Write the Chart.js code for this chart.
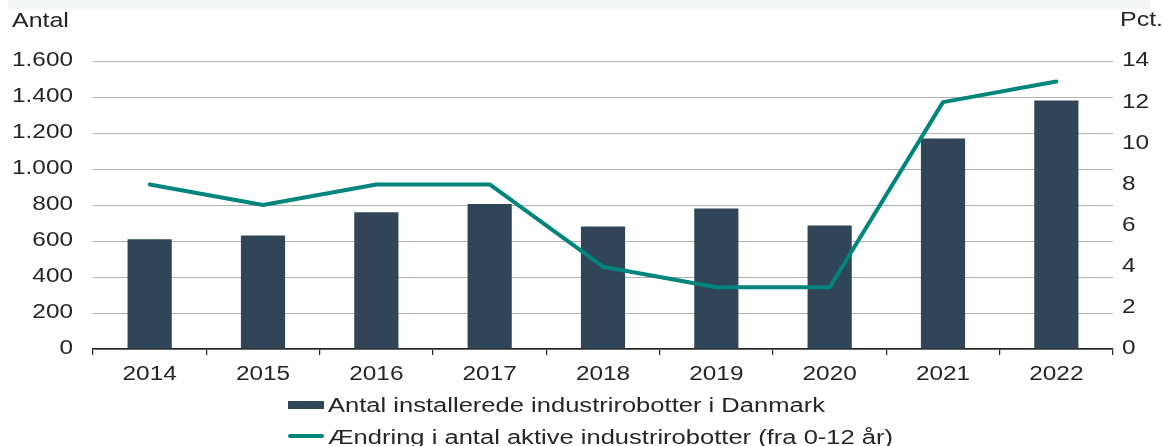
<!DOCTYPE html>
<html>
<head>
<meta charset="utf-8">
<script src="https://cdn.jsdelivr.net/npm/chart.js@4"></script>
<style>
  html, body { margin: 0; padding: 0; background: #fff; }
  #wrap { position: relative; width: 1163px; height: 446px; overflow: hidden; font-family: "Liberation Sans", Arial, sans-serif; color: #262626; }
  #c { position: absolute; left: 0; top: 0; }
  .band { position: absolute; left: 8px; top: 0; width: 1142px; height: 9px; background: #f4f5f5; }
  .t { position: absolute; font-size: 19.5px; line-height: 1; white-space: nowrap; transform: scaleX(1.28); transform-origin: 0 0; }
  .lg { transform: scaleX(1.31); }
  .sw { position: absolute; left: 288px; width: 36px; }
</style>
</head>
<body>
<div id="wrap">
  <canvas id="c" width="1163" height="446"></canvas>
  <div class="band"></div>
  <div class="t" style="left:12px; top:11px;">Antal</div>
  <div class="t" style="left:1120px; top:10px;">Pct.</div>
  <div class="sw" style="top:401px; height:8px; background:#314559;"></div>
  <div class="t lg" style="left:328px; top:396px;" id="lg1"></div>
  <div class="sw" style="top:434px; height:4px; background:#00857c; border-radius:2px;"></div>
  <div class="t lg" style="left:328px; top:428px;" id="lg2"></div>
</div>
<script>
const categories = ["2014", "2015", "2016", "2017", "2018", "2019", "2020", "2021", "2022"];
const installedRobots = [610, 630, 760, 805, 680, 780, 686, 1170, 1380];
const changeActiveRobots = [8, 7, 8, 8, 4, 3, 3, 12, 13];
const barLabel = "Antal installerede industrirobotter i Danmark";
const lineLabel = "Ændring i antal aktive industrirobotter (fra 0-12 år)";

document.getElementById('lg1').textContent = barLabel;
document.getElementById('lg2').textContent = lineLabel;

const canvas = document.getElementById('c');
const ctx = canvas.getContext('2d');
const SX = 1.25;
const ofill = ctx.fillText.bind(ctx);
ctx.fillText = function (t, x, y, mw) {
  ctx.save();
  ctx.translate(x, y);
  ctx.scale(SX, 1);
  if (mw === undefined) ofill(t, 0, 0); else ofill(t, 0, 0, mw / SX);
  ctx.restore();
};
const omeas = ctx.measureText.bind(ctx);
ctx.measureText = function (t) {
  const m = omeas(t);
  return { width: m.width * SX, actualBoundingBoxAscent: m.actualBoundingBoxAscent, actualBoundingBoxDescent: m.actualBoundingBoxDescent };
};

const font = { family: "'Liberation Sans', Arial, sans-serif", size: 19.5 };

new Chart(ctx, {
  data: {
    labels: categories,
    datasets: [
      {
        type: 'line', label: lineLabel, data: changeActiveRobots, yAxisID: 'y1',
        borderColor: '#00857c', borderWidth: 4, pointRadius: 0, tension: 0, order: 0,
        borderCapStyle: 'round', borderJoinStyle: 'round'
      },
      {
        type: 'bar', label: barLabel, data: installedRobots, yAxisID: 'y',
        backgroundColor: '#314559', barPercentage: 0.39, categoryPercentage: 1, order: 1
      }
    ]
  },
  options: {
    responsive: false,
    animation: false,
    devicePixelRatio: 1,
    layout: { padding: { left: 0, right: 0, top: 61, bottom: 0 } },
    plugins: { legend: { display: false }, tooltip: { enabled: false } },
    scales: {
      x: {
        offset: true,
        grid: { offset: true, drawOnChartArea: false, drawTicks: true, tickLength: 6, color: '#222', lineWidth: 1.2 },
        border: { display: true, color: '#222', width: 1.5 },
        ticks: { font: font, color: '#262626', padding: 8, maxRotation: 0, autoSkip: false },
        afterFit: s => { s.height = 97; }
      },
      y: {
        position: 'left', min: 0, max: 1600,
        grid: { color: '#b0b0b0', lineWidth: 1, drawTicks: false },
        border: { display: false },
        ticks: {
          stepSize: 200, font: font, color: '#262626', padding: 20,
          callback: v => v.toLocaleString('da-DK')
        },
        afterFit: s => { s.width = 93; }
      },
      y1: {
        position: 'right', min: 0, max: 14,
        grid: { display: false, drawTicks: false },
        border: { display: false },
        ticks: { stepSize: 2, font: font, color: '#262626', padding: 9 },
        afterFit: s => { s.width = 50; }
      }
    }
  }
});
</script>
</body>
</html>
